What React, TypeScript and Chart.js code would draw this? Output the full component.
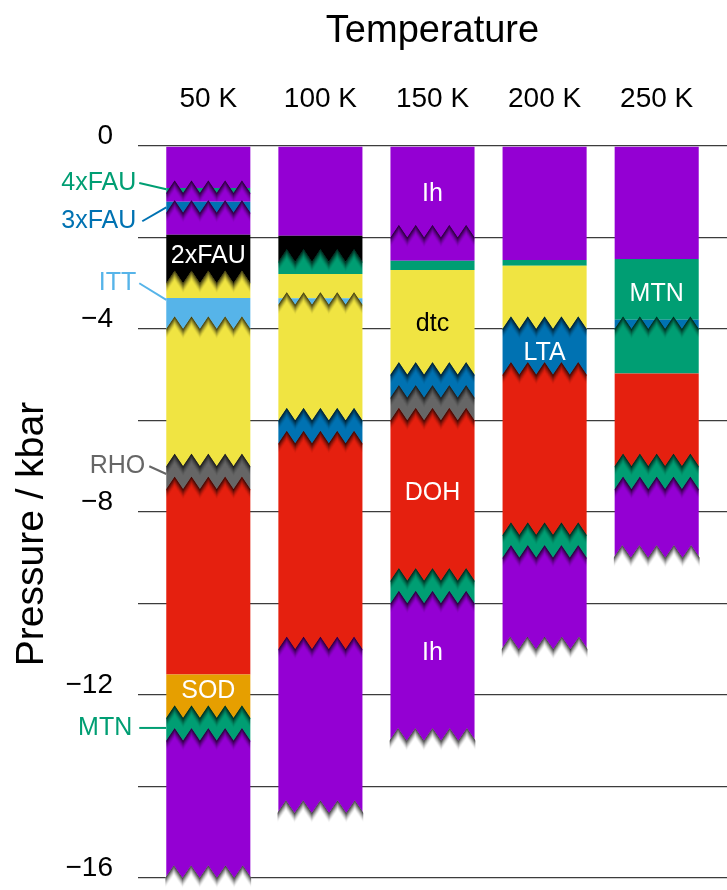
import React, { useEffect, useRef } from "react";
import { Chart, registerables } from "chart.js";

Chart.register(...registerables);

const FONT = "'Liberation Sans', Arial, Helvetica, sans-serif";

// ---- data ----
const TEMPERATURES = [50, 100, 150, 200, 250];
const Y_TICK_VALUES = [0, -4, -8, -12, -16];
const X_TITLE = "Temperature";
const Y_TITLE = "Pressure / kbar";

// phases from top (0 kbar) downwards; bounds has one more entry than phases
// jagged[i] = top edge of phase i is a jagged transition; last entry = jagged end of column
const PHASES_50K = ["Ih", "4xFAU", "Ih", "3xFAU", "Ih", "2xFAU", "dtc", "ITT", "dtc", "RHO", "DOH", "SOD", "MTN", "Ih"];
const BOUNDS_50K = [0, -0.92, -1.03, -1.22, -1.46, -1.94, -3.0, -3.32, -4.0, -7.0, -7.5, -11.55, -12.5, -13.0, -16.0];
const JAGGED_50K = [false, false, true, false, true, false, true, false, true, true, true, false, true, true, true];

const PHASES_100K = ["Ih", "2xFAU", "MTN", "dtc", "ITT", "dtc", "LTA", "DOH", "Ih"];
const BOUNDS_100K = [0, -1.96, -2.53, -2.8, -3.33, -3.47, -6.0, -6.5, -11.0, -14.58];
const JAGGED_100K = [false, false, true, false, false, true, true, true, true, true];

const PHASES_150K = ["Ih", "Ih", "MTN", "dtc", "LTA", "RHO", "DOH", "MTN", "Ih"];
const BOUNDS_150K = [0, -2.0, -2.51, -2.71, -5.0, -5.5, -6.0, -9.5, -10.0, -13.0];
const JAGGED_150K = [false, true, false, false, true, true, true, true, true, true];

const PHASES_200K = ["Ih", "MTN", "dtc", "LTA", "DOH", "MTN", "Ih"];
const BOUNDS_200K = [0, -2.49, -2.62, -4.0, -5.0, -8.5, -9.0, -11.0];
const JAGGED_200K = [false, false, false, true, true, true, true, true];

const PHASES_250K = ["Ih", "MTN", "LTA", "MTN", "DOH", "MTN", "Ih"];
const BOUNDS_250K = [0, -2.47, -3.8, -4.0, -4.97, -7.0, -7.5, -9.0];
const JAGGED_250K = [false, false, false, true, false, true, true, true];

const PHASES = [PHASES_50K, PHASES_100K, PHASES_150K, PHASES_200K, PHASES_250K];
const BOUNDS = [BOUNDS_50K, BOUNDS_100K, BOUNDS_150K, BOUNDS_200K, BOUNDS_250K];
const JAGGED = [JAGGED_50K, JAGGED_100K, JAGGED_150K, JAGGED_200K, JAGGED_250K];

// labels drawn inside the columns
const INNER_TEXT = ["2xFAU", "SOD", "Ih", "dtc", "DOH", "Ih", "LTA", "MTN"];
const INNER_TEMP = [50, 50, 150, 150, 150, 150, 200, 250];
const INNER_P = [-2.41, -11.91, -1.055, -3.9, -7.58, -11.08, -4.52, -3.23];
const INNER_DARK = [false, false, false, true, false, false, false, false];

// labels left of the 50 K column, with leader lines
const OUTER_TEXT = ["4xFAU", "3xFAU", "ITT", "RHO", "MTN"];
const OUTER_P = [-0.81, -1.645, -3.0, -7.0, -12.72];
const OUTER_TARGET_P = [-0.947, -1.34, -3.365, -7.17, -12.72];

// ---- styles ----
const PHASE_COLORS: Record<string, string> = {
  Ih: "#9400D3",
  "4xFAU": "#009E73",
  MTN: "#009E73",
  "3xFAU": "#0072B2",
  LTA: "#0072B2",
  "2xFAU": "#000000",
  ITT: "#56B4E9",
  dtc: "#F0E442",
  RHO: "#666666",
  DOH: "#E5200F",
  SOD: "#E69F00",
};
const OUTER_TEXT_GAP = [30, 30, 30, 21, 34];
const OUTER_LINE_GAP = [27, 24, 27, 17, 27];

const TOOTH_H = 12.5;
const TEETH = 5;
const SHADE = 10;
const X_MARGIN = 31.36;

function zig(L: number, W: number, yv: number, dy: number) {
  const w = W / TEETH;
  const pts: [number, number][] = [[L, yv + dy]];
  for (let i = 0; i < TEETH; i++) {
    pts.push([L + (i + 0.5) * w, yv - TOOTH_H + dy]);
    pts.push([L + (i + 1) * w, yv + dy]);
  }
  return pts;
}

function drawJag(ctx: CanvasRenderingContext2D, L: number, W: number, yv: number, yBottom: number, color: string, fillTo: number) {
  const pts = zig(L, W, yv, 0);
  ctx.beginPath();
  ctx.moveTo(pts[0][0], pts[0][1]);
  for (const p of pts) ctx.lineTo(p[0], p[1]);
  ctx.lineTo(L + W, fillTo);
  ctx.lineTo(L, fillTo);
  ctx.closePath();
  ctx.fillStyle = color;
  ctx.fill();

  ctx.save();
  ctx.beginPath();
  ctx.rect(L, yv - TOOTH_H - 2, W, yBottom - (yv - TOOTH_H - 2));
  ctx.clip();
  for (let k = 0; k < SHADE; k++) {
    const a = zig(L, W, yv, k);
    const b = zig(L, W, yv, k + 1).reverse();
    ctx.beginPath();
    ctx.moveTo(a[0][0], a[0][1]);
    for (const p of a) ctx.lineTo(p[0], p[1]);
    for (const p of b) ctx.lineTo(p[0], p[1]);
    ctx.closePath();
    const alpha = 0.88 * Math.pow(1 - k / SHADE, 1.7);
    ctx.fillStyle = `rgba(0,0,0,${alpha.toFixed(3)})`;
    ctx.fill();
  }
  ctx.restore();
}

const phasePlugin = {
  id: "phaseDecor",
  afterDatasetsDraw(chart: any) {
    const { ctx } = chart;
    const yScale = chart.scales.y;
    const colLeft: number[] = [];
    const colWidth: number[] = [];
    TEMPERATURES.forEach((t, c) => {
      const el = chart.getDatasetMeta(c).data[0];
      const L = el.x - el.width / 2;
      const W = el.width;
      colLeft.push(L);
      colWidth.push(W);
      const ph = PHASES[c];
      const bd = BOUNDS[c];
      const jg = JAGGED[c];
      for (let i = 0; i < ph.length; i++) {
        if (!jg[i]) continue;
        const yv = yScale.getPixelForValue(bd[i]);
        const yb = yScale.getPixelForValue(bd[i + 1]);
        drawJag(ctx, L, W, yv, yb, PHASE_COLORS[ph[i]], yv + 1);
      }
      if (jg[ph.length]) {
        const yv = yScale.getPixelForValue(bd[ph.length]);
        drawJag(ctx, L - 1, W + 2, yv, yv + SHADE + 2, "#ffffff", yv + SHADE + 3);
      }
    });

    ctx.save();
    ctx.font = `25px ${FONT}`;
    ctx.textAlign = "center";
    ctx.textBaseline = "middle";
    INNER_TEXT.forEach((txt, i) => {
      const c = TEMPERATURES.indexOf(INNER_TEMP[i]);
      ctx.fillStyle = INNER_DARK[i] ? "#000" : "#fff";
      ctx.fillText(txt, colLeft[c] + colWidth[c] / 2, yScale.getPixelForValue(INNER_P[i]));
    });

    ctx.textAlign = "right";
    ctx.lineWidth = 2;
    OUTER_TEXT.forEach((txt, i) => {
      const color = PHASE_COLORS[txt];
      const ty = yScale.getPixelForValue(OUTER_P[i]);
      ctx.fillStyle = color;
      ctx.strokeStyle = color;
      ctx.fillText(txt, colLeft[0] - OUTER_TEXT_GAP[i], ty);
      ctx.beginPath();
      ctx.moveTo(colLeft[0] - OUTER_LINE_GAP[i], ty);
      ctx.lineTo(colLeft[0], yScale.getPixelForValue(OUTER_TARGET_P[i]));
      ctx.stroke();
    });
    ctx.restore();
  },
  afterDraw(chart: any) {
    const { ctx, chartArea } = chart;
    ctx.save();
    ctx.translate(32, (chartArea.top + chartArea.bottom) / 2 + 22);
    ctx.rotate(-Math.PI / 2);
    ctx.font = `39px ${FONT}`;
    ctx.textAlign = "center";
    ctx.textBaseline = "middle";
    ctx.fillStyle = "#000";
    ctx.fillText(Y_TITLE, 0, 0);
    ctx.restore();
  },
};

function fmtP(v: number) {
  if (v === 0) return "0";
  return (v < 0 ? "\u2212" : "") + Math.abs(v);
}

export default function App() {
  const ref = useRef<HTMLCanvasElement>(null);
  useEffect(() => {
    document.body.style.margin = "0";
    const canvas = ref.current!;
    const chart = new Chart(canvas, {
      type: "bar",
      data: {
        datasets: TEMPERATURES.map((t, c) => ({
          label: `${t} K`,
          data: PHASES[c].map((ph, i) => ({ x: t, y: [BOUNDS[c][i + 1], BOUNDS[c][i]] })),
          backgroundColor: PHASES[c].map((ph) => PHASE_COLORS[ph]),
          borderWidth: 0,
          grouped: false,
          barPercentage: 0.75,
          categoryPercentage: 1,
        })) as any,
      },
      options: {
        responsive: false,
        animation: false,
        events: [],
        layout: { padding: { top: 0, right: 0, bottom: 12, left: 0 } },
        plugins: { legend: { display: false }, tooltip: { enabled: false } },
        scales: {
          x: {
            type: "linear",
            position: "top",
            offset: false,
            min: TEMPERATURES[0] - X_MARGIN,
            max: TEMPERATURES[TEMPERATURES.length - 1] + X_MARGIN,
            afterBuildTicks: (s: any) => {
              s.ticks = TEMPERATURES.map((v) => ({ value: v }));
            },
            afterFit: (s: any) => {
              s.height = 146;
              s.paddingLeft = 0;
              s.paddingRight = 0;
              s.paddingTop = 0;
              s.paddingBottom = 0;
            },
            grid: { display: false, drawTicks: false, offset: false },
            border: { display: false },
            ticks: {
              autoSkip: false,
              maxRotation: 0,
              padding: 30,
              color: "#000",
              font: { family: FONT, size: 28 },
              callback: (v: any) => `${v} K`,
            },
            title: {
              display: true,
              text: X_TITLE,
              color: "#000",
              font: { family: FONT, size: 38 },
              padding: { top: 9, bottom: 0 },
            },
          },
          y: {
            type: "linear",
            min: -16,
            max: 0,
            afterFit: (s: any) => {
              s.width = 138;
              s.paddingLeft = 0;
              s.paddingRight = 0;
              s.paddingTop = 0;
              s.paddingBottom = 0;
            },
            grid: { color: "#3c3c3c", lineWidth: 1.3, drawTicks: false },
            border: { display: false },
            ticks: {
              stepSize: 2,
              autoSkip: false,
              padding: 25,
              labelOffset: -10,
              color: "#000",
              font: { family: FONT, size: 28 },
              callback: (v: any) => (Y_TICK_VALUES.includes(v) ? fmtP(v) : ""),
            },
          },
        },
      } as any,
      plugins: [phasePlugin],
    });
    return () => chart.destroy();
  }, []);
  return (
    <div style={{ width: 727, height: 890 }}>
      <canvas ref={ref} width={727} height={890} style={{ display: "block" }} />
    </div>
  );
}
